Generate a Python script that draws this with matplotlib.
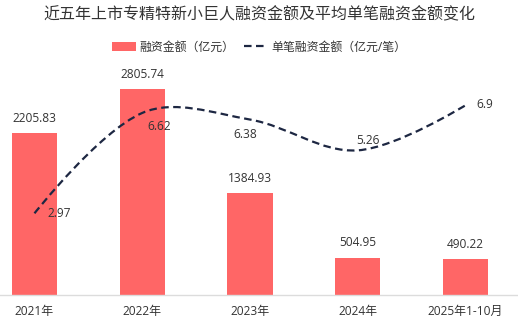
import matplotlib
matplotlib.use("Agg")
import matplotlib.pyplot as plt
import numpy as np
from matplotlib.path import Path
from matplotlib.patches import PathPatch, Patch
from matplotlib.lines import Line2D

plt.rcParams['font.family'] = ['Open Sans', 'Noto Sans CJK SC', 'DejaVu Sans']

categories = ["2021年", "2022年", "2023年", "2024年", "2025年1-10月"]
amounts = [2205.83, 2805.74, 1384.93, 504.95, 490.22]      # 融资金额（亿元）
avg_amounts = [2.97, 6.62, 6.38, 5.26, 6.9]                 # 单笔融资金额（亿元/笔）

title = "近五年上市专精特新小巨人融资金额及平均单笔融资金额变化"
bar_name = "融资金额（亿元）"
line_name = "单笔融资金额（亿元/笔）"

BAR_COLOR = "#ff6666"
LINE_COLOR = "#1d2742"
TEXT_COLOR = "#333333"

W, H, DPI = 518, 324, 100
fig = plt.figure(figsize=(W / DPI, H / DPI), dpi=DPI)
fig.patch.set_facecolor("white")

# plot area in pixels: y from 75 (top) to 295 (baseline)
ax = fig.add_axes([0, (H - 295) / H, 1, (295 - 75) / H])
x = np.arange(len(categories))
ax.set_xlim(-0.32, 4.487)
ax.set_ylim(0, 3000)

bars = ax.bar(x, amounts, width=0.42, color=BAR_COLOR, zorder=2)
for xi, v in zip(x, amounts):
    ax.annotate(f"{v:.2f}", (xi, v), xytext=(0, 15), textcoords="offset pixels",
                ha="center", va="center", fontsize=8.6, color=TEXT_COLOR)

for s in ["top", "left", "right"]:
    ax.spines[s].set_visible(False)
ax.spines["bottom"].set_color("#dcdcdc")
ax.spines["bottom"].set_linewidth(1.0)
ax.set_yticks([])
ax.set_xticks(x)
ax.set_xticklabels(categories, fontsize=8.6, color=TEXT_COLOR)
ax.tick_params(axis="x", length=0, pad=7)

ax2 = ax.twinx()
ax2.set_ylim(0, 8)
ax2.set_yticks([])
for s in ax2.spines.values():
    s.set_visible(False)


def smooth_path(xs, ys, sx, sy, smooth=0.5):
    """Cubic bezier through the points, tangents from neighbouring points."""
    P = np.column_stack([np.asarray(xs, float) * sx, np.asarray(ys, float) * sy])
    n = len(P)
    cp_in = P.copy()
    cp_out = P.copy()
    for i in range(1, n - 1):
        v = (P[i + 1] - P[i - 1]) * smooth
        d0 = np.hypot(*(P[i] - P[i - 1]))
        d1 = np.hypot(*(P[i + 1] - P[i]))
        r1 = d1 / (d0 + d1)
        cp_out[i] = P[i] + v * r1
        cp_in[i] = P[i] - v * (1 - r1)
    verts = [P[0]]
    codes = [Path.MOVETO]
    for i in range(n - 1):
        verts += [cp_out[i], cp_in[i + 1], P[i + 1]]
        codes += [Path.CURVE4] * 3
    verts = np.array(verts) / np.array([sx, sy])
    return Path(verts, codes)


px_per_cat = 107.75
px_per_unit = 220 / 8
path = smooth_path(x, avg_amounts, px_per_cat, px_per_unit, smooth=0.35)
patch = PathPatch(path, fill=False, edgecolor=LINE_COLOR, linewidth=1.6,
                  linestyle=(0, (3.4, 2.0)), zorder=3, capstyle="butt")
ax2.add_patch(patch)

# label offsets in pixels (dx, dy)
line_label_offsets = [(25, 0), (17, -14), (-5, -15), (10, 10), (19, 1)]
for xi, v, (dx, dy) in zip(x, avg_amounts, line_label_offsets):
    ax2.annotate(f"{v:g}", (xi, v), xytext=(dx, dy), textcoords="offset pixels",
                 ha="center", va="center", fontsize=8.6, color=TEXT_COLOR, zorder=4)

fig.text(0.5, 1 - 15 / H, title, ha="center", va="center", fontsize=11.5,
         color=TEXT_COLOR)

handles = [Patch(facecolor=BAR_COLOR, edgecolor="none"),
           Line2D([0], [0], color=LINE_COLOR, linewidth=1.6, linestyle=(0, (3.4, 2.0)))]
fig.legend(handles, [bar_name, line_name], loc="center", bbox_to_anchor=(0.5, 1 - 47 / H),
           ncol=2, frameon=False, fontsize=8.6, handlelength=2.0, handleheight=0.7,
           handletextpad=0.3, columnspacing=0.8, labelcolor=TEXT_COLOR)

fig.savefig("out.png", dpi=DPI)
